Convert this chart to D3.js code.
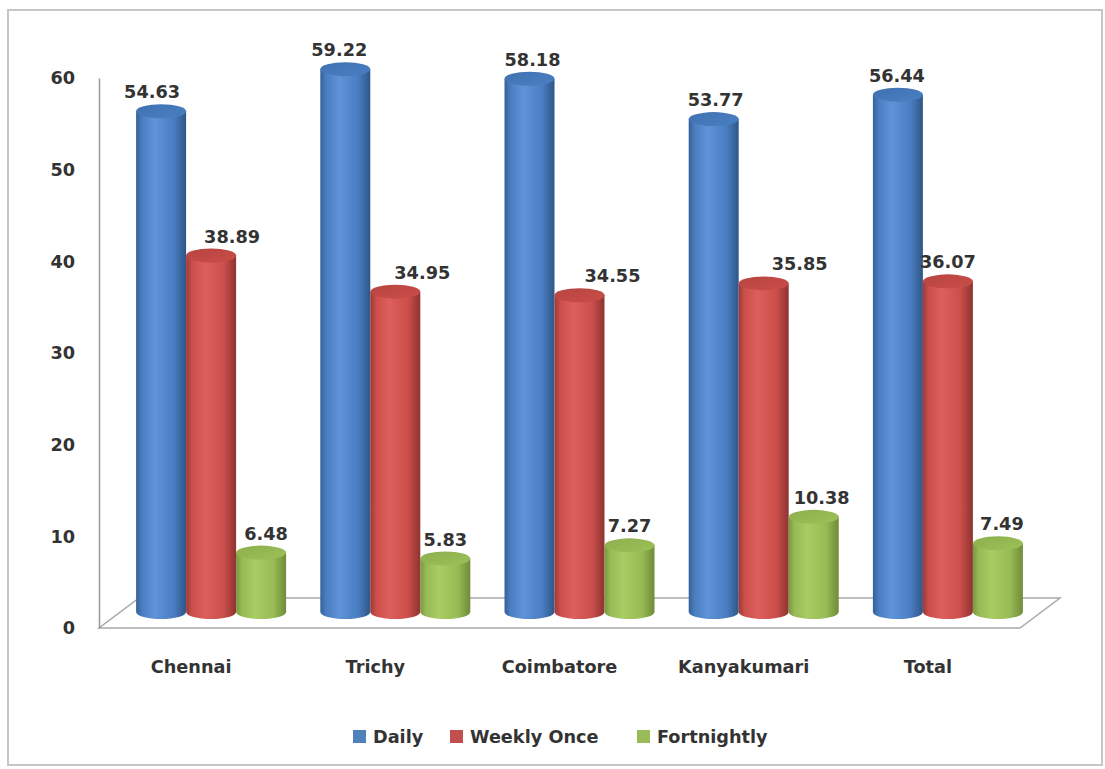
<!DOCTYPE html>
<html>
<head>
<meta charset="utf-8">
<script src="https://cdn.jsdelivr.net/npm/d3@7"></script>
<style>
  body { margin: 0; background: #fff; }
  text { font-family: "DejaVu Sans", sans-serif; font-weight: 700; fill: #333; }
</style>
</head>
<body>
<div id="chart-area"></div>
<script>
// data
var cities = ["Chennai", "Trichy", "Coimbatore", "Kanyakumari", "Total"];
var seriesNames = ["Daily", "Weekly Once", "Fortnightly"];
var daily = [54.63, 59.22, 58.18, 53.77, 56.44];
var weeklyOnce = [38.89, 34.95, 34.55, 35.85, 36.07];
var fortnightly = [6.48, 5.83, 7.27, 10.38, 7.49];
var yTicks = [0, 10, 20, 30, 40, 50, 60];

var seriesValues = [daily, weeklyOnce, fortnightly];

// label nudges (Excel placed some labels off-centre)
var labelNudge = [[-9, -6, 3, 2, -1], [21, 27, 33, 36, 0], [5, 0, 0, 8, 4]];

var width = 1105,
    height = 769,
    fontSize = "17.7px";

var depthX = 40, depthY = -30;   // floor depth offset
var barW = 50, ry = 7;

var shades = [
  { edgeL: "#36609a", mid: "#5e93d8", base: "#4a7ec2", edgeR: "#2f5687", top: "#4172b0" },
  { edgeL: "#9c3a38", mid: "#de5f5b", base: "#cb4f4b", edgeR: "#8e3331", top: "#b64541" },
  { edgeL: "#7a9840", mid: "#a9cd63", base: "#97bb55", edgeR: "#6f8b39", top: "#8dae4e" }
];
var legendColors = ["#4f81bd", "#c0504d", "#9bbb59"];

var svg = d3.select("#chart-area")
  .append("svg")
    .attr("width", width)
    .attr("height", height);

// frame
svg.append("rect")
    .attr("x", 8).attr("y", 10)
    .attr("width", 1094).attr("height", 755)
    .attr("fill", "#fff")
    .attr("stroke", "#c6c6c6")
    .attr("stroke-width", 2);

var x0 = d3.scaleBand()
    .domain(cities)
    .range([99, 1020]);

var x1 = d3.scaleBand()
    .domain(seriesNames)
    .range([-barW * 1.5, barW * 1.5]);

var y = d3.scaleLinear()
    .domain([0, 60])
    .range([628, 78]);

// gradients
var defs = svg.append("defs");
shades.forEach(function(s, i) {
  var g = defs.append("linearGradient")
      .attr("id", "cyl" + i)
      .attr("x1", "0%").attr("x2", "100%").attr("y1", "0%").attr("y2", "0%");
  g.append("stop").attr("offset", "0%").attr("stop-color", s.edgeL);
  g.append("stop").attr("offset", "12%").attr("stop-color", s.base);
  g.append("stop").attr("offset", "38%").attr("stop-color", s.mid);
  g.append("stop").attr("offset", "75%").attr("stop-color", s.base);
  g.append("stop").attr("offset", "100%").attr("stop-color", s.edgeR);
  var t = defs.append("linearGradient")
      .attr("id", "top" + i)
      .attr("x1", "0%").attr("x2", "100%").attr("y1", "0%").attr("y2", "100%");
  t.append("stop").attr("offset", "0%").attr("stop-color", s.top);
  t.append("stop").attr("offset", "100%").attr("stop-color", d3.color(s.top).brighter(0.3));
});

// floor
var fx0 = x0.range()[0], fx1 = x0.range()[1], fy = y(0);
svg.append("path")
    .attr("d", "M" + fx0 + "," + fy + "L" + fx1 + "," + fy +
               "L" + (fx1 + depthX) + "," + (fy + depthY) +
               "L" + (fx0 + depthX) + "," + (fy + depthY) + "Z")
    .attr("fill", "#fff")
    .attr("stroke", "#a8a8a8")
    .attr("stroke-width", 1.5);

// y axis
var yAxis = svg.append("g")
    .attr("transform", "translate(99,0)")
    .call(d3.axisLeft(y).tickValues(yTicks).tickSize(0).tickPadding(24));
yAxis.select(".domain").attr("stroke", "#999").attr("stroke-width", 1.5);
yAxis.selectAll("text")
    .style("font-family", "'DejaVu Sans', sans-serif")
    .style("font-weight", 700)
    .style("font-size", fontSize)
    .attr("fill", "#333");

// category axis
var xAxis = svg.append("g")
    .attr("transform", "translate(0," + fy + ")")
    .call(d3.axisBottom(x0).tickSize(0).tickPadding(32));
xAxis.select(".domain").remove();
xAxis.selectAll("text")
    .style("font-family", "'DejaVu Sans', sans-serif")
    .style("font-weight", 700)
    .style("font-size", fontSize)
    .attr("fill", "#333");

// bars as cylinders
var bars = [];
cities.forEach(function(c, ci) {
  seriesNames.forEach(function(s, si) {
    bars.push({ city: c, ci: ci, series: s, si: si, value: seriesValues[si][ci] });
  });
});

var cx = function(d) {
  return x0(d.city) + x0.bandwidth() / 2 + depthX / 2 + x1(d.series) + x1.bandwidth() / 2;
};
var baseY = function() { return y(0) + depthY / 2 - 1; };
var topY = function(d) { return y(d.value) + depthY / 2 - 1; };

var cyl = svg.selectAll(".cyl")
  .data(bars)
  .enter().append("g")
    .attr("class", "cyl");

cyl.append("path")
    .attr("d", function(d) {
      var rx = x1.bandwidth() / 2, c = cx(d);
      return "M" + (c - rx) + "," + topY(d) +
             "L" + (c - rx) + "," + baseY() +
             "A" + rx + "," + ry + " 0 0 0 " + (c + rx) + "," + baseY() +
             "L" + (c + rx) + "," + topY(d) + "Z";
    })
    .attr("fill", function(d) { return "url(#cyl" + d.si + ")"; });

cyl.append("ellipse")
    .attr("cx", cx)
    .attr("cy", topY)
    .attr("rx", x1.bandwidth() / 2)
    .attr("ry", ry)
    .attr("fill", function(d) { return "url(#top" + d.si + ")"; });

cyl.append("text")
    .attr("x", function(d) { return cx(d) + labelNudge[d.si][d.ci]; })
    .attr("y", function(d) { return topY(d) - 13; })
    .attr("text-anchor", "middle")
    .style("font-size", fontSize)
    .text(function(d) { return d3.format(".2f")(d.value); });

// legend
var legendX = [353, 450, 637];
var legend = svg.selectAll(".legend")
  .data(seriesNames)
  .enter().append("g")
    .attr("class", "legend")
    .attr("transform", function(d, i) { return "translate(" + legendX[i] + ",730)"; });

legend.append("rect")
    .attr("width", 13).attr("height", 13)
    .attr("fill", function(d, i) { return legendColors[i]; });

legend.append("text")
    .attr("x", 20)
    .attr("y", 13)
    .style("font-size", fontSize)
    .text(function(d) { return d; });
</script>
</body>
</html>
